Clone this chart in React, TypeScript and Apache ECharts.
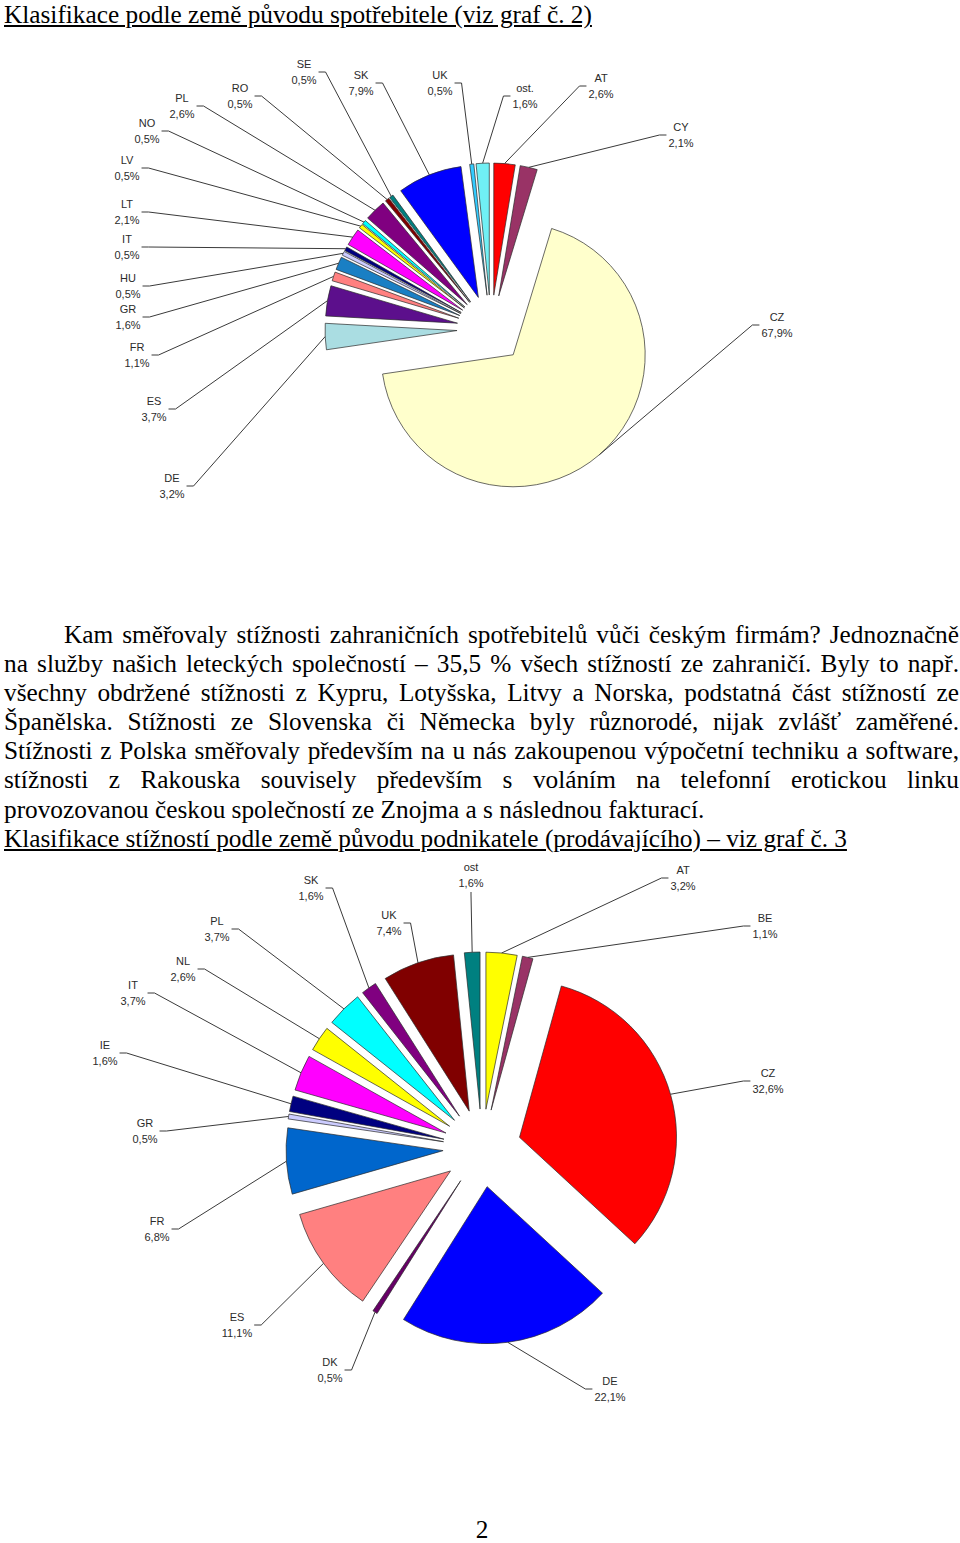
import React, { useEffect, useRef } from 'react';
import * as echarts from 'echarts';

// ---------- Data: chart 1 (země původu spotřebitele) ----------
const categories1 = ['AT', 'CY', 'CZ', 'DE', 'ES', 'FR', 'GR', 'HU', 'IT', 'LT', 'LV', 'NO', 'PL', 'RO', 'SE', 'SK', 'UK', 'ost.'];
const values1 = [2.6, 2.1, 67.9, 3.2, 3.7, 1.1, 1.6, 0.5, 0.5, 2.1, 0.5, 0.5, 2.6, 0.5, 0.5, 7.9, 0.5, 1.6];

// ---------- Data: chart 2 (země původu podnikatele) ----------
const categories2 = ['AT', 'BE', 'CZ', 'DE', 'DK', 'ES', 'FR', 'GR', 'IE', 'IT', 'NL', 'PL', 'SK', 'UK', 'ost'];
const values2 = [3.2, 1.1, 32.6, 22.1, 0.5, 11.1, 6.8, 0.5, 1.6, 3.7, 2.6, 3.7, 1.6, 7.4, 1.6];

// ---------- Styles ----------
const colors1 = ['#FF0000', '#993366', '#FFFFCC', '#AADDE2', '#5C0F8C', '#FF8080', '#1A7FC4', '#CCCCFF', '#000080', '#FF00FF', '#FFFF00', '#00FFFF', '#800080', '#800000', '#008080', '#0000FF', '#33CCFF', '#70F0F5'];
const colors2 = ['#FFFF00', '#993366', '#FF0000', '#0000FF', '#660066', '#FF8080', '#0066CC', '#CCCCFF', '#000080', '#FF00FF', '#FFFF00', '#00FFFF', '#800080', '#800000', '#008080'];

// label placement (layout only: label centres in px)
const labelPos1: Record<string, [number, number]> = {
  AT: [601, 86], CY: [681, 135], CZ: [777, 325], DE: [172, 486], ES: [154, 409],
  FR: [137, 355], GR: [128, 317], HU: [128, 286], IT: [127, 247], LT: [127, 212],
  LV: [127, 168], NO: [147, 131], PL: [182, 106], RO: [240, 96], SE: [304, 72],
  SK: [361, 83], UK: [440, 83], 'ost.': [525, 96],
};
const labelPos2: Record<string, [number, number]> = {
  AT: [683, 878], BE: [765, 926], CZ: [768, 1081], DE: [610, 1389], DK: [330, 1370],
  ES: [237, 1325], FR: [157, 1229], GR: [145, 1131], IE: [105, 1053], IT: [133, 993],
  NL: [183, 969], PL: [217, 929], SK: [311, 888], UK: [389, 923], ost: [471, 875],
};

const PIE1 = { center: [491, 329], r: 132, offset: 34 };
const PIE2 = { center: [482, 1148], r: 157, offset: 39 };

const fmt = (p: any) => p.name + '\n' + String(p.value).replace('.', ',') + '%';

function makeLabelLayout(names: string[], pos: Record<string, [number, number]>, cx: number, bottomAttach: string[]) {
  return (params: any) => {
    const name = names[params.dataIndex];
    const [x, y] = pos[name];
    const w = params.labelRect.width;
    const h = params.labelRect.height;
    const p0 = params.labelLinePoints ? params.labelLinePoints[0] : [x, y];
    let p1: number[];
    let p2: number[];
    if (bottomAttach.indexOf(name) >= 0) {
      p2 = [x, y + h / 2 + 1];
      p1 = [x, y + h / 2 + 4];
    } else if (x < cx) {
      p2 = [x + w / 2 + 2, y];
      p1 = [x + w / 2 + 9, y];
    } else {
      p2 = [x - w / 2 - 2, y];
      p1 = [x - w / 2 - 9, y];
    }
    return { x, y, align: 'center', verticalAlign: 'middle', labelLinePoints: [p0, p1, p2] };
  };
}

function explodedPie(cats: string[], vals: number[], cols: string[], cfg: any) {
  return {
    type: 'pie',
    center: cfg.center,
    radius: cfg.r,
    startAngle: 90,
    clockwise: true,
    selectedMode: 'multiple',
    selectedOffset: cfg.offset,
    avoidLabelOverlap: false,
    silent: true,
    label: { show: false },
    labelLine: { show: false },
    itemStyle: { borderColor: '#2a2a2a', borderWidth: 0.7 },
    select: { itemStyle: { borderColor: '#2a2a2a', borderWidth: 0.7 } },
    emphasis: { disabled: true },
    data: cats.map((n, i) => ({ name: n, value: vals[i], selected: true, itemStyle: { color: cols[i] } })),
  };
}

function labelPie(cats: string[], vals: number[], cfg: any, pos: Record<string, [number, number]>, bottom: string[]) {
  return {
    type: 'pie',
    center: cfg.center,
    radius: cfg.r + cfg.offset,
    startAngle: 90,
    clockwise: true,
    silent: true,
    avoidLabelOverlap: false,
    z: 5,
    itemStyle: { color: 'rgba(0,0,0,0)', borderWidth: 0 },
    emphasis: { disabled: true },
    label: {
      show: true,
      position: 'outside',
      formatter: fmt,
      color: '#2b2b2b',
      fontSize: 11,
      lineHeight: 16,
      fontFamily: "'Liberation Sans', Arial, sans-serif",
      align: 'center',
    },
    labelLine: { show: true, length: 10, length2: 10, lineStyle: { color: '#3a3a3a', width: 1 } },
    labelLayout: makeLabelLayout(cats, pos, cfg.center[0], bottom),
    data: cats.map((n, i) => ({ name: n, value: vals[i] })),
  };
}

const serif = "'Liberation Serif', 'Times New Roman', serif";
const FS = 25.3;
const LH = 20;
const BASE = (LH - 1.107 * FS) / 2 + 0.891 * FS;

type Line = { text: string; left: number; base: number; justify?: boolean; underline?: boolean; width?: number };

const paraLines: Line[] = [
  { text: 'Klasifikace podle země původu spotřebitele (viz graf č. 2)', left: 4, base: 22.8, underline: true },
  { text: 'Kam směřovaly stížnosti zahraničních spotřebitelů vůči českým firmám? Jednoznačně', left: 64, base: 642.5, justify: true, width: 895 },
  { text: 'na služby našich leteckých společností – 35,5\u00a0% všech stížností ze zahraničí. Byly to např.', left: 4, base: 671.6, justify: true, width: 955 },
  { text: 'všechny obdržené stížnosti z Kypru, Lotyšska, Litvy a Norska, podstatná část stížností ze', left: 4, base: 700.7, justify: true, width: 955 },
  { text: 'Španělska. Stížnosti ze Slovenska či Německa byly různorodé, nijak zvlášť zaměřené.', left: 4, base: 729.8, justify: true, width: 955 },
  { text: 'Stížnosti z Polska směřovaly především na u nás zakoupenou výpočetní techniku a software,', left: 4, base: 758.9, justify: true, width: 955 },
  { text: 'stížnosti z Rakouska souvisely především s voláním na telefonní erotickou linku', left: 4, base: 788.0, justify: true, width: 955 },
  { text: 'provozovanou českou společností ze Znojma a s následnou fakturací.', left: 4, base: 817.1 },
  { text: 'Klasifikace stížností podle země původu podnikatele (prodávajícího) – viz graf č. 3', left: 4, base: 846.2, underline: true },
];

export default function App() {
  const ref = useRef<HTMLDivElement>(null);
  useEffect(() => {
    if (!ref.current) return;
    const chart = echarts.init(ref.current, undefined, { renderer: 'svg' });
    chart.setOption({
      animation: false,
      backgroundColor: '#ffffff',
      series: [
        explodedPie(categories1, values1, colors1, PIE1),
        labelPie(categories1, values1, PIE1, labelPos1, []),
        explodedPie(categories2, values2, colors2, PIE2),
        labelPie(categories2, values2, PIE2, labelPos2, ['ost']),
      ],
    });
    return () => chart.dispose();
  }, []);

  return (
    <div style={{ position: 'absolute', left: 0, top: 0, width: 960, height: 1543, background: '#fff', overflow: 'hidden' }}>
      <div ref={ref} style={{ position: 'absolute', left: 0, top: 0, width: 960, height: 1543 }} />
      {paraLines.map((l, i) => (
        <div
          key={i}
          style={{
            position: 'absolute',
            left: l.left,
            top: l.base - BASE,
            width: l.width,
            height: LH,
            lineHeight: LH + 'px',
            fontSize: FS,
            fontFamily: serif,
            color: '#000',
            whiteSpace: l.justify ? 'normal' : 'nowrap',
            textAlign: l.justify ? 'justify' : 'left',
            textAlignLast: l.justify ? 'justify' : 'auto',
            wordSpacing: l.justify ? '-2px' : undefined,
            textDecoration: l.underline ? 'underline' : 'none',
          } as any}
        >
          {l.text}
        </div>
      ))}
      <div
        style={{
          position: 'absolute', left: 0, top: 1537.2 - BASE, width: 964, height: LH, lineHeight: LH + 'px',
          fontSize: FS, fontFamily: serif, color: '#000', textAlign: 'center',
        }}
      >
        2
      </div>
    </div>
  );
}
